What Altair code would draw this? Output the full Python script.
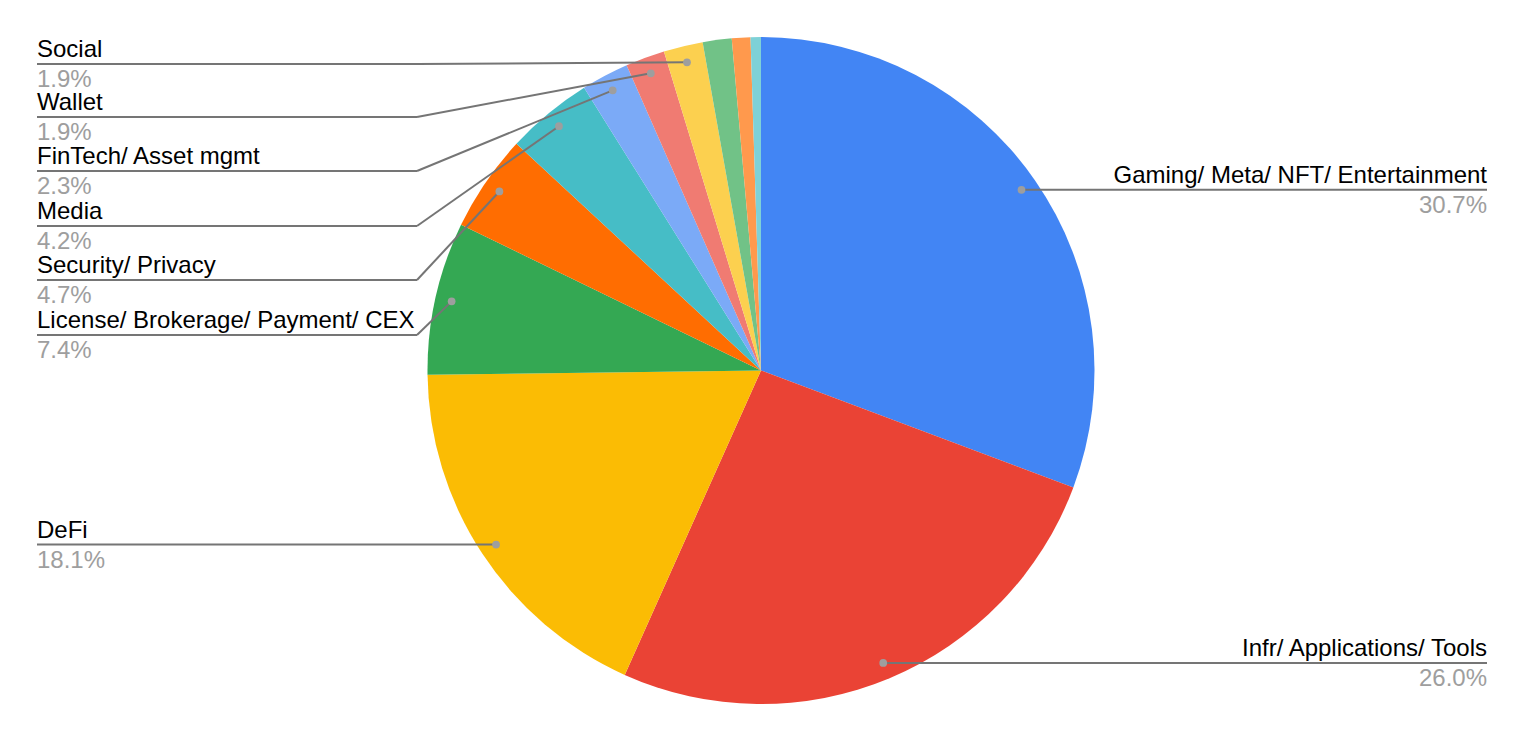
import altair as alt
import pandas as pd

categories = [
    "Gaming/ Meta/ NFT/ Entertainment",
    "Infr/ Applications/ Tools",
    "DeFi",
    "License/ Brokerage/ Payment/ CEX",
    "Security/ Privacy",
    "Media",
    "FinTech/ Asset mgmt",
    "Wallet",
    "Social",
    "Other A",
    "Other B",
    "Other C",
]
values = [30.7, 26.0, 18.1, 7.4, 4.7, 4.2, 2.3, 1.9, 1.9, 1.4, 0.9, 0.5]
colors = ["#4285F4", "#EA4335", "#FBBC04", "#34A853", "#FF6D01", "#46BDC6",
          "#7BAAF7", "#F07B72", "#FCD04F", "#71C287", "#FF994D", "#7ED1D7"]

# layout of the labels (page pixel rows for stacked left labels)
label_side = ["right", "right", "left", "left", "left", "left", "left", "left", "left", None, None, None]
label_line_y = [None, None, None, 335, 280, 226, 171, 117, 64, None, None, None]

OFF = 8
W, H = 1508, 726
CX, CY = 761 - OFF, 370.5 - OFF
R = 333.5
DOT_R = 317
ELBOW_X = 417 - OFF
LEFT_X = 37 - OFF
RIGHT_X = 1487 - OFF
FONT = "Liberation Sans"

df = pd.DataFrame({
    "cat": categories,
    "value": values,
    "idx": list(range(len(categories))),
    "side": label_side,
    "ly": [None if v is None else v - OFF for v in label_line_y],
})

arcs = alt.Chart(df).mark_arc(outerRadius=R).encode(
    theta=alt.Theta("value:Q", stack=True),
    color=alt.Color("cat:N", scale=alt.Scale(domain=categories, range=colors), legend=None),
    order=alt.Order("idx:Q"),
    x=alt.value(CX),
    y=alt.value(CY),
)

base = (
    alt.Chart(df)
    .transform_window(cum="sum(value)", sort=[alt.SortField("idx")], frame=[None, 0])
    .transform_joinaggregate(total="sum(value)")
    .transform_calculate(
        mid="(datum.cum - datum.value/2) / datum.total * 2 * PI",
        pct="format(datum.value / datum.total, '.1%')",
    )
    .transform_calculate(
        px=f"{CX} + {DOT_R} * sin(datum.mid)",
        py=f"{CY} - {DOT_R} * cos(datum.mid)",
    )
    .transform_calculate(
        lineY="isValid(datum.ly) ? datum.ly : datum.py",
        elbowX=f"(datum.side == 'left' && isValid(datum.ly)) ? {ELBOW_X} : datum.px",
        endX=f"datum.side == 'left' ? {LEFT_X} : {RIGHT_X}",
    )
    .transform_filter("isValid(datum.side)")
)

X = lambda f: alt.X(f, scale=None, axis=None)
Y = lambda f: alt.Y(f, scale=None, axis=None)

seg1 = base.mark_rule(color="#757575", strokeWidth=2).encode(
    x=X("px:Q"), y=Y("py:Q"), x2="elbowX:Q", y2="lineY:Q"
)
seg2 = base.mark_rule(color="#757575", strokeWidth=2).encode(
    x=X("elbowX:Q"), y=Y("lineY:Q"), x2="endX:Q", y2="lineY:Q"
)
dots = base.mark_circle(size=60, color="#9E9E9E", opacity=1).encode(
    x=X("px:Q"), y=Y("py:Q")
)

left = base.transform_filter("datum.side == 'left'")
right = base.transform_filter("datum.side == 'right'")

name_l = left.mark_text(align="left", baseline="alphabetic", dy=-7, fontSize=24, font=FONT, color="#000000").encode(
    x=alt.value(LEFT_X), y=Y("lineY:Q"), text="cat:N")
pct_l = left.mark_text(align="left", baseline="alphabetic", dy=23, fontSize=24, font=FONT, color="#9E9E9E").encode(
    x=alt.value(LEFT_X), y=Y("lineY:Q"), text="pct:N")
name_r = right.mark_text(align="right", baseline="alphabetic", dy=-7, fontSize=24, font=FONT, color="#000000").encode(
    x=alt.value(RIGHT_X), y=Y("lineY:Q"), text="cat:N")
pct_r = right.mark_text(align="right", baseline="alphabetic", dy=23, fontSize=24, font=FONT, color="#9E9E9E").encode(
    x=alt.value(RIGHT_X), y=Y("lineY:Q"), text="pct:N")

chart = (
    alt.layer(arcs, seg1, seg2, dots, name_l, pct_l, name_r, pct_r)
    .properties(width=W, height=H, padding=0, autosize="none")
    .configure_view(stroke=None)
)

chart.save("out.html", embed_options={"renderer": "svg", "actions": False})
